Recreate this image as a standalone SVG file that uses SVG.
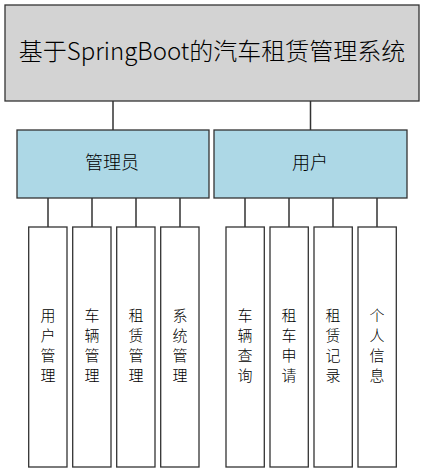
<svg xmlns="http://www.w3.org/2000/svg" width="424" height="473" viewBox="0 0 424 473">
<style>
.box{stroke:#333;stroke-width:1.3}
.root{fill:#d3d3d3}
.mid{fill:#add8e6}
.leaf{fill:#fff}
.t{font-family:"Microsoft YaHei","Noto Sans CJK SC",sans-serif;font-weight:300;fill:#000;text-anchor:middle}
.c{stroke:#333;stroke-width:1.5;fill:none}
</style>
<rect width="424" height="473" fill="#fff"/>
<g id="connectors">
<path class="c" d="M113 101V130M310.5 101V130"/>
<path class="c" d="M48 198V227M92 198V227M136 198V227M180 198V227"/>
<path class="c" d="M245 198V227M289 198V227M333 198V227M377 198V227"/>
</g>
<g id="root">
<rect class="box root" x="5" y="5" width="414" height="96"/>
<text class="t" x="212" y="60" font-size="24">基于SpringBoot的汽车租赁管理系统</text>
</g>
<g id="admin">
<rect class="box mid" x="17" y="130" width="192" height="68"/>
<text class="t" x="112" y="169" font-size="18">管理员</text>
</g>
<g id="user">
<rect class="box mid" x="214" y="130" width="193" height="68"/>
<text class="t" x="310" y="169" font-size="18">用户</text>
</g>
<g id="leaf1"><rect class="box leaf" x="28.7" y="227" width="38.3" height="240"/><text class="t" x="48" font-size="15"><tspan x="48" y="321">用</tspan><tspan x="48" y="341">户</tspan><tspan x="48" y="361">管</tspan><tspan x="48" y="381">理</tspan></text></g>
<g id="leaf2"><rect class="box leaf" x="72.7" y="227" width="38.3" height="240"/><text class="t" x="92" font-size="15"><tspan x="92" y="321">车</tspan><tspan x="92" y="341">辆</tspan><tspan x="92" y="361">管</tspan><tspan x="92" y="381">理</tspan></text></g>
<g id="leaf3"><rect class="box leaf" x="116.7" y="227" width="38.3" height="240"/><text class="t" x="136" font-size="15"><tspan x="136" y="321">租</tspan><tspan x="136" y="341">赁</tspan><tspan x="136" y="361">管</tspan><tspan x="136" y="381">理</tspan></text></g>
<g id="leaf4"><rect class="box leaf" x="160.7" y="227" width="38.3" height="240"/><text class="t" x="180" font-size="15"><tspan x="180" y="321">系</tspan><tspan x="180" y="341">统</tspan><tspan x="180" y="361">管</tspan><tspan x="180" y="381">理</tspan></text></g>
<g id="leaf5"><rect class="box leaf" x="226" y="227" width="38.3" height="240"/><text class="t" x="245" font-size="15"><tspan x="245" y="321">车</tspan><tspan x="245" y="341">辆</tspan><tspan x="245" y="361">查</tspan><tspan x="245" y="381">询</tspan></text></g>
<g id="leaf6"><rect class="box leaf" x="270" y="227" width="38.3" height="240"/><text class="t" x="289" font-size="15"><tspan x="289" y="321">租</tspan><tspan x="289" y="341">车</tspan><tspan x="289" y="361">申</tspan><tspan x="289" y="381">请</tspan></text></g>
<g id="leaf7"><rect class="box leaf" x="314" y="227" width="38.3" height="240"/><text class="t" x="333" font-size="15"><tspan x="333" y="321">租</tspan><tspan x="333" y="341">赁</tspan><tspan x="333" y="361">记</tspan><tspan x="333" y="381">录</tspan></text></g>
<g id="leaf8"><rect class="box leaf" x="358" y="227" width="38.3" height="240"/><text class="t" x="377" font-size="15"><tspan x="377" y="321">个</tspan><tspan x="377" y="341">人</tspan><tspan x="377" y="361">信</tspan><tspan x="377" y="381">息</tspan></text></g>
</svg>
